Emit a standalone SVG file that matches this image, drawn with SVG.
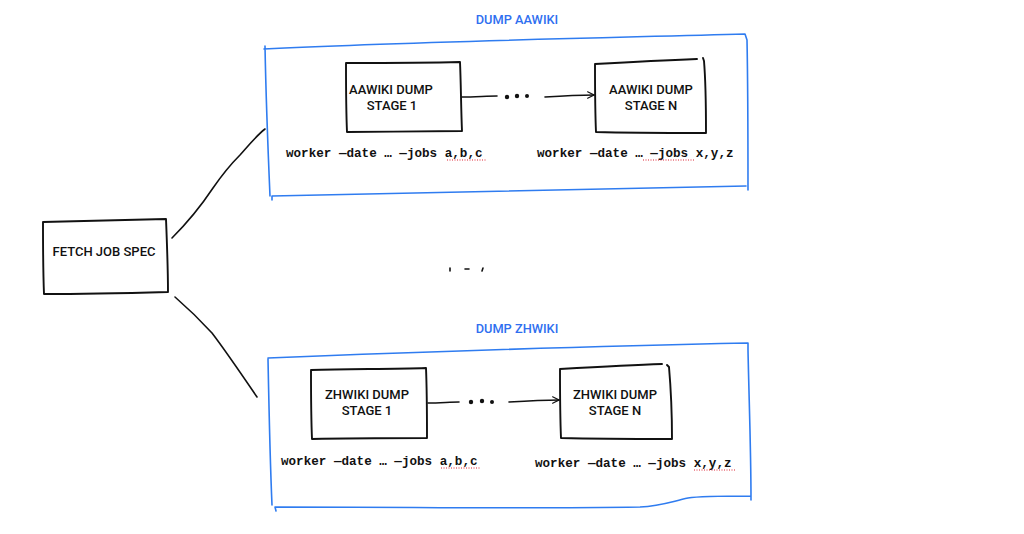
<svg xmlns="http://www.w3.org/2000/svg" width="1024" height="534" viewBox="0 0 1024 534">
<defs>
<style>
.box{fill:none;stroke:#111;stroke-width:1.9;stroke-linecap:round;stroke-linejoin:round}
.grp{fill:none;stroke:#2f7cf0;stroke-width:1.6;stroke-linecap:round;stroke-linejoin:round}
.lbl{font-family:Roboto,"Liberation Sans",Arial,sans-serif;font-size:13px;font-weight:500;fill:#111;text-anchor:middle}
.ttl{font-family:Roboto,"Liberation Sans",Arial,sans-serif;font-size:12.8px;font-weight:500;fill:#2f6ff0;text-anchor:middle}
.cmd{font-family:"Liberation Mono","Courier New",monospace;font-size:12.6px;font-weight:bold;fill:#111}
.con{fill:none;stroke:#111;stroke-width:1.6;stroke-linecap:round;stroke-linejoin:round}
.dot{fill:#111}
.sp{fill:none;stroke:#d23;stroke-width:1;stroke-dasharray:1 1.5}
</style>
<marker id="arr" viewBox="0 0 10 10" refX="9" refY="5" markerWidth="8" markerHeight="8" orient="auto" markerUnits="userSpaceOnUse">
<path d="M1,1 L9,5 L1,9" fill="none" stroke="#111" stroke-width="1.4" stroke-linecap="round"/>
</marker>
<radialGradient id="sh" cx="0.5" cy="1" r="0.5">
<stop offset="0" stop-color="#eeeeee"/>
<stop offset="1" stop-color="#ffffff" stop-opacity="0"/>
</radialGradient>
</defs>
<rect width="1024" height="534" fill="#fff"/>
<ellipse cx="512" cy="540" rx="340" ry="32" fill="url(#sh)"/>

<g id="group-aawiki">
<text class="ttl" x="517" y="24">DUMP AAWIKI</text>
<path class="grp" d="M264,49 C400,42 600,38 745,34 L747,40 C748,90 748,140 748,190 M746,186 C600,189 450,192 272,196 L272,200 M265,46 C266,100 268,150 270,196"/>
</g>

<g id="group-zhwiki">
<text class="ttl" x="517" y="333">DUMP ZHWIKI</text>
<path class="grp" d="M268,358 C420,352 600,346 748,343 L748,350 C749,400 751,450 751,500 M751,496 C720,496 700,496 688,498 C670,502 660,506 640,507 C520,509 420,507 275,507 L276,511 M268,359 C269,410 270,460 272,505"/>
</g>

<g id="fetch">
<path class="box" d="M43,222 C90,221 130,220 166,219 C167,244 168,268 168,292 C130,293 90,294 44,294 C43,270 43,246 43,222 Z"/>
<text class="lbl" x="104" y="256">FETCH JOB SPEC</text>
</g>

<g id="aa-stage1">
<path class="box" d="M346,63 C385,63 425,63 460,62 C461,85 461,108 462,131 C425,131 385,132 347,132 C346,109 346,86 346,63 Z"/>
<text class="lbl" x="391" y="94">AAWIKI DUMP</text>
<text class="lbl" x="392" y="110">STAGE 1</text>
</g>

<g id="aa-stageN">
<path class="box" d="M595,64 C630,62 670,60 697,59 M595,64 C595,88 595,110 596,132 C630,133 670,133 706,133 C706,110 706,85 704,61 L703,58"/>
<text class="lbl" x="651" y="94">AAWIKI DUMP</text>
<text class="lbl" x="651" y="110">STAGE N</text>
</g>

<g id="zh-stage1">
<path class="box" d="M311,370 C350,369 390,369 426,368 C427,392 427,415 427,438 C390,438 350,438 312,439 C311,416 311,393 311,370 Z"/>
<text class="lbl" x="367" y="399">ZHWIKI DUMP</text>
<text class="lbl" x="367" y="415">STAGE 1</text>
</g>

<g id="zh-stageN">
<path class="box" d="M560,369 C595,367 630,365 662,364 M560,369 C560,392 560,415 561,438 C600,439 640,439 672,439 C672,415 671,390 669,367 L667,365"/>
<text class="lbl" x="615" y="399">ZHWIKI DUMP</text>
<text class="lbl" x="615" y="415">STAGE N</text>
</g>

<g id="commands">
<text class="cmd" x="286" y="157">worker —date … —jobs a,b,c</text>
<text class="cmd" x="537" y="157">worker —date … —jobs x,y,z</text>
<text class="cmd" x="281" y="465">worker —date … —jobs a,b,c</text>
<text class="cmd" x="535" y="467">worker —date … —jobs x,y,z</text>
<path class="sp" d="M447,160 L487,160 M643,160 L695,160 M441,468 L480,468 M694,470 L735,470"/>
</g>

<g id="connectors">
<path class="con" d="M172,238 C190,220 205,200 213,188 C222,175 232,163 240,155 C248,146 256,136 265,129"/>
<path class="con" d="M175,297 C190,310 200,320 212,333 C225,350 240,372 257,397"/>
<path class="con" d="M462,97 C475,97 487,96 497,96"/>
<circle class="dot" cx="507" cy="97" r="2.2"/>
<circle class="dot" cx="517" cy="96" r="2.2"/>
<circle class="dot" cx="527" cy="96" r="2"/>
<path class="con" d="M545,97 C560,96 578,95 594,95" marker-end="url(#arr)"/>
<path class="con" d="M428,403 C440,403 450,402 459,402"/>
<circle class="dot" cx="471" cy="402" r="2.2"/>
<circle class="dot" cx="482" cy="401" r="2.2"/>
<circle class="dot" cx="492" cy="402" r="2"/>
<path class="con" d="M509,402 C525,401 542,400 559,400" marker-end="url(#arr)"/>
<path class="con" d="M450,268 L450,271 M465,269 L469,269 M482,271 L483,268"/>
</g>
</svg>
